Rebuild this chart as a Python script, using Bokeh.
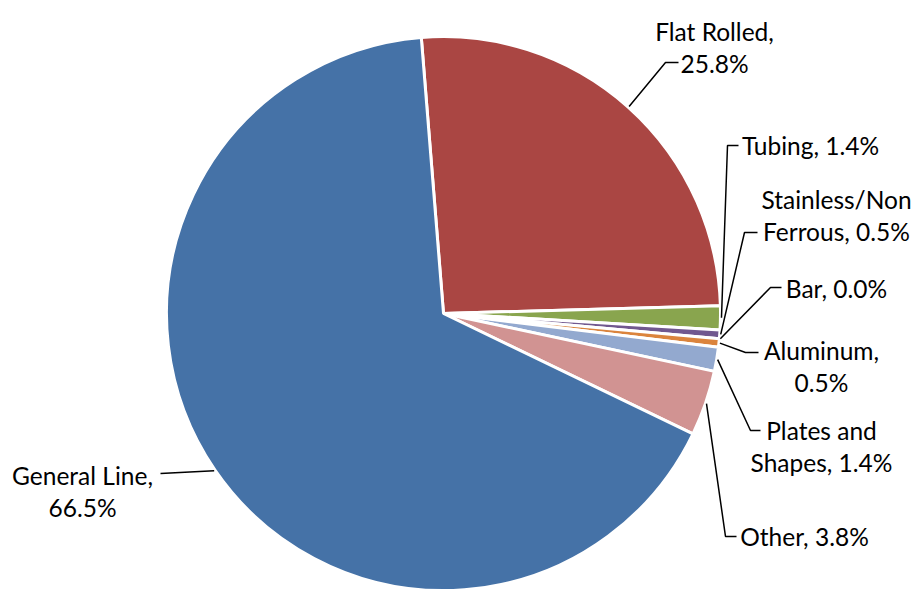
import math
from bokeh.plotting import figure
from bokeh.models import Range1d, ColumnDataSource
from bokeh.core.properties import value
from bokeh.embed import file_html
from bokeh.resources import INLINE

# ---- data ----
categories = ["Flat Rolled", "Tubing", "Stainless/Non Ferrous", "Bar",
              "Aluminum", "Plates and Shapes", "Other", "General Line"]
shares = [25.8, 1.4, 0.5, 0.0, 0.5, 1.4, 3.8, 66.5]
colors = ["#AA4643", "#89A54E", "#71588F", "#4198AF",
          "#DB843D", "#93A9CF", "#D19392", "#4572A7"]

# ---- layout (pixel coordinates, y measured from top) ----
W, H = 915, 590
CX, CY, R = 443, 313, 277
FIRST = 4.6          # first slice rotated counter-clockwise from 12 o'clock (deg)
LINE_H = 32
FONT = "Lato"
FSIZE = "24.5px"
# words on first line (None = single line), text centre x, first baseline y, elbow, end
label_layout = [
    (2, 714, 31, (665, 62), (678, 62)),
    (None, 810, 145, (727, 145), (738, 145)),
    (1, 836, 199, (744, 232), (757, 232)),
    (None, 836, 288, (770, 287), (781, 287)),
    (1, 821, 350, (745, 352), (758, 352)),
    (2, 821, 430, (750, 430), (760, 430)),
    (None, 804, 536, (725, 536), (736, 536)),
    (2, 82, 475, (160, 473), (160, 473)),
]


def Y(y):
    return H - y


total = sum(shares)
cum = 0.0
ws = dict(start=[], end=[], color=[])
lx, ly, lt = [], [], []
xs, ys = [], []
for cat, val, col, lay in zip(categories, shares, colors, label_layout):
    frac = val / total
    a0 = math.radians(90 + FIRST - 360 * cum)
    a1 = math.radians(90 + FIRST - 360 * (cum + frac))
    amid = (a0 + a1) / 2
    cum += frac
    if val > 0:
        ws["start"].append(a1)
        ws["end"].append(a0)
        ws["color"].append(col)
    nwords, tx, by, elbow, end = lay
    label = f"{cat}, {val:.1f}%"
    words = label.split(" ")
    if nwords is None:
        lines = [label]
    else:
        lines = [" ".join(words[:nwords]), " ".join(words[nwords:])]
    for i, ln in enumerate(lines):
        lx.append(tx)
        ly.append(Y(by + i * LINE_H))
        lt.append(ln)
    sx = CX + (R + 1) * math.cos(amid)
    sy = Y(CY) + (R + 1) * math.sin(amid)
    xs.append([sx, elbow[0], end[0]])
    ys.append([sy, Y(elbow[1]), Y(end[1])])

p = figure(width=W, height=H, x_range=Range1d(0, W), y_range=Range1d(0, H),
           x_axis_type=None, y_axis_type=None, toolbar_location=None,
           output_backend="svg", min_border=0)
p.grid.visible = False
p.outline_line_color = None
p.background_fill_color = "white"
p.border_fill_color = "white"

src = ColumnDataSource(ws)
p.wedge(x=CX, y=Y(CY), radius=R, start_angle="start", end_angle="end",
        direction="anticlock", fill_color="color", line_color="white",
        line_width=3, source=src)

p.multi_line(xs=xs, ys=ys, line_color="black", line_width=1.5)

p.text(x=lx, y=ly, text=lt, text_align="center", text_baseline="alphabetic",
       text_font=value(FONT), text_font_size=FSIZE, text_color="black")

open("out.html", "w").write(file_html(p, INLINE))
